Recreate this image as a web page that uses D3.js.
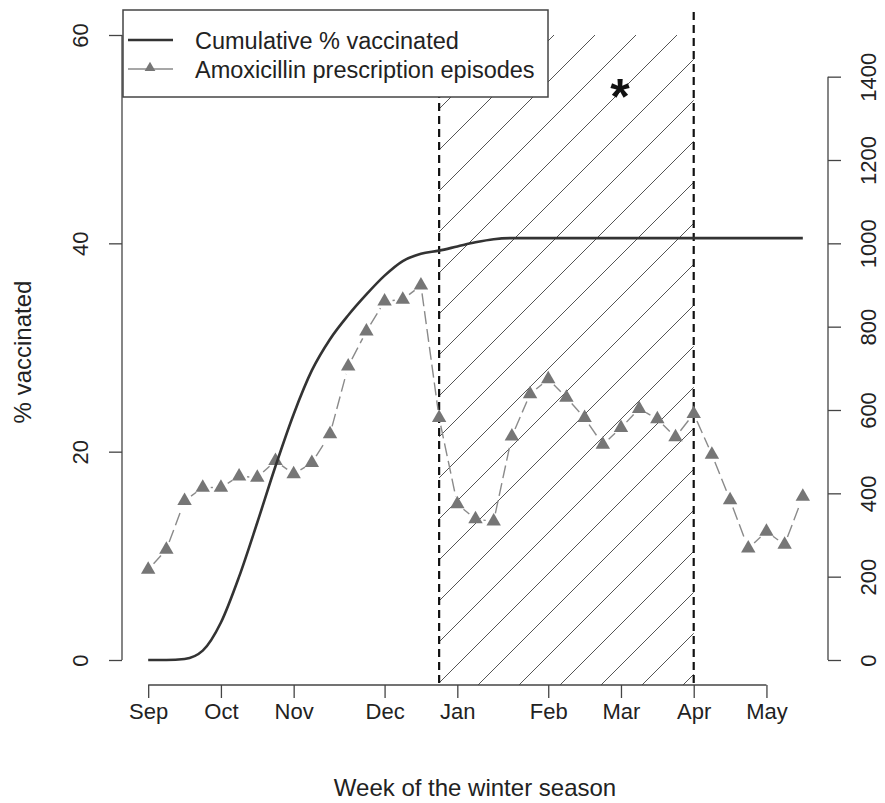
<!DOCTYPE html>
<html>
<head>
<meta charset="utf-8">
<script src="https://cdn.jsdelivr.net/npm/d3@7"></script>
<style>
  body { margin: 0; background: #fff; }
  svg { display: block; font-family: "Liberation Sans", Arial, sans-serif; }
</style>
</head>
<body>
<script>
// week index 0..36 of the winter season
var weeks = d3.range(0, 37);
var vaccinated = [0, 0, 0.1, 0.9, 3.6, 8, 13.2, 18.6, 23.6, 27.8, 30.8, 33.1, 35.1, 36.9, 38.3, 39, 39.3,
    39.7, 40.1, 40.4, 40.5, 40.5, 40.5, 40.5, 40.5, 40.5, 40.5, 40.5, 40.5, 40.5, 40.5, 40.5, 40.5, 40.5, 40.5, 40.5, 40.5];
var amoxicillin = [217, 265, 382, 414, 414, 441, 438, 478, 446, 473, 542, 705, 789, 861, 865, 899, 581,
    374, 338, 333, 537, 638, 674, 630, 581, 517, 557, 603, 578, 535, 591, 493, 384, 268, 308, 277, 392];
var monthLabels = ["Sep", "Oct", "Nov", "Dec", "Jan", "Feb", "Mar", "Apr", "May"];
var monthWeeks = [0, 4, 8, 13, 17, 22, 26, 30, 34];
var leftTicks = [0, 20, 40, 60];
var rightTicks = [0, 200, 400, 600, 800, 1000, 1200, 1400];
var shadedWeeks = [16, 30];
var seriesNames = ["Cumulative % vaccinated", "Amoxicillin prescription episodes"];

var W = 885, H = 803;
var svg = d3.select('body').append('svg').attr('width', W).attr('height', H);

var x = d3.scaleLinear().domain([-1.44, 37.44]).range([122, 829]);
var yL = d3.scaleLinear().domain([-2.4, 62.4]).range([685, 10]);
var yR = d3.scaleLinear().domain([-60, 1560]).range([685, 10]);

// hatched period
var hx0 = x(shadedWeeks[0]), hx1 = x(shadedWeeks[1]);
svg.append('clipPath').attr('id', 'hclip').append('rect')
    .attr('x', hx0).attr('y', yL(60)).attr('width', hx1 - hx0).attr('height', yL(-2.4) - yL(60));
var hatch = svg.append('g').attr('clip-path', 'url(#hclip)');
var spacing = 41, base = yL(-2.4);
for (var k = -20; k < 20; k++) {
    var x0 = 478 + k * spacing;
    hatch.append('line')
        .attr('x1', x0).attr('y1', base)
        .attr('x2', x0 + 700).attr('y2', base - 700)
        .style('stroke', '#555').style('stroke-width', 1);
}
shadedWeeks.forEach(function(w){
    svg.append('line')
        .attr('x1', x(w)).attr('x2', x(w))
        .attr('y1', 12).attr('y2', 685)
        .style('stroke', '#111').style('stroke-width', 2.2)
        .style('stroke-dasharray', '8,5');
});

// axes
var fs = 22;
var gl = svg.append('g').attr('transform', 'translate(122,0)')
    .call(d3.axisLeft(yL).tickValues(leftTicks).tickSize(13));
gl.select('.domain').remove();
gl.append('line').attr('x1', 0).attr('x2', 0).attr('y1', yL(0)).attr('y2', yL(60));
gl.selectAll('line').style('stroke', '#444').style('stroke-width', 1.3);
gl.selectAll('text').attr('font-size', fs).attr('fill', '#222')
    .attr('x', -34).attr('y', 0).attr('dy', 0).attr('text-anchor', 'middle')
    .attr('transform', 'rotate(-90,-34,0)');

var gr = svg.append('g').attr('transform', 'translate(828,0)')
    .call(d3.axisRight(yR).tickValues(rightTicks).tickSize(13).tickFormat(d3.format('d')));
gr.select('.domain').remove();
gr.append('line').attr('x1', 0).attr('x2', 0).attr('y1', yR(0)).attr('y2', yR(1400));
gr.selectAll('line').style('stroke', '#444').style('stroke-width', 1.3);
gr.selectAll('text').attr('font-size', fs).attr('fill', '#222')
    .attr('x', 48).attr('y', 0).attr('dy', 0).attr('text-anchor', 'middle')
    .attr('transform', 'rotate(-90,48,0)');

var gb = svg.append('g').attr('transform', 'translate(0,685)')
    .call(d3.axisBottom(x).tickValues(monthWeeks).tickSize(13)
        .tickFormat(function(d, i){ return monthLabels[i]; }));
gb.select('.domain').remove();
gb.append('line').attr('x1', x(0)).attr('x2', x(34)).attr('y1', 0).attr('y2', 0);
gb.selectAll('line').style('stroke', '#444').style('stroke-width', 1.3);
gb.selectAll('text').attr('font-size', fs).attr('fill', '#222')
    .attr('y', 34).attr('dy', 0);

svg.append('text').attr('x', 475).attr('y', 796).attr('text-anchor', 'middle')
    .attr('font-size', 24).attr('fill', '#222').text('Week of the winter season');
svg.append('text').attr('transform', 'translate(31,352) rotate(-90)').attr('text-anchor', 'middle')
    .attr('font-size', 24).attr('fill', '#222').text('% vaccinated');

// amoxicillin series (points joined with gaps, like R type = "b")
var pts = weeks.map(function(w, i){ return [x(w), yR(amoxicillin[i])]; });
var gap = 8;
for (var i = 0; i < pts.length - 1; i++) {
    var a = pts[i], b = pts[i + 1];
    var dx = b[0] - a[0], dy = b[1] - a[1], len = Math.sqrt(dx * dx + dy * dy);
    if (len <= 2 * gap) continue;
    var ux = dx / len, uy = dy / len;
    svg.append('line')
        .attr('x1', a[0] + ux * gap).attr('y1', a[1] + uy * gap)
        .attr('x2', b[0] - ux * gap).attr('y2', b[1] - uy * gap)
        .style('stroke', '#8a8a8a').style('stroke-width', 1.4)
        .style('stroke-dasharray', '13,5');
}
var tri = d3.symbol().type(d3.symbolTriangle).size(90);
svg.selectAll('path.tri').data(pts).enter().append('path').attr('class', 'tri')
    .attr('d', tri)
    .attr('transform', function(d){ return 'translate(' + d[0] + ',' + d[1] + ')'; })
    .style('fill', '#767676');

// vaccination curve
var line = d3.line()
    .x(function(d, i){ return x(weeks[i]); })
    .y(function(d){ return yL(d); })
    .curve(d3.curveMonotoneX);
svg.append('path').datum(vaccinated).attr('d', line)
    .style('fill', 'none').style('stroke', '#333').style('stroke-width', 2.6);

// asterisk
svg.append('text').attr('x', 620).attr('y', 114).attr('text-anchor', 'middle')
    .attr('font-size', 50).attr('font-weight', 'bold').attr('fill', '#111').text('*');

// legend
var lg = svg.append('g');
lg.append('rect').attr('x', 123).attr('y', 10).attr('width', 425).attr('height', 87)
    .style('fill', '#fff').style('stroke', '#444').style('stroke-width', 1.5);
lg.append('line').attr('x1', 128).attr('x2', 173).attr('y1', 40).attr('y2', 40)
    .style('stroke', '#333').style('stroke-width', 2.6);
lg.append('line').attr('x1', 128).attr('x2', 173).attr('y1', 69).attr('y2', 69)
    .style('stroke', '#8a8a8a').style('stroke-width', 1.4);
lg.append('path').attr('d', d3.symbol().type(d3.symbolTriangle).size(50))
    .attr('transform', 'translate(150,68)').style('fill', '#767676');
lg.selectAll('text.lt').data(seriesNames).enter().append('text').attr('class', 'lt')
    .attr('x', 195).attr('y', function(d, i){ return 49 + i * 29; })
    .attr('font-size', 23.5).attr('fill', '#222').text(function(d){ return d; });
</script>
</body>
</html>
